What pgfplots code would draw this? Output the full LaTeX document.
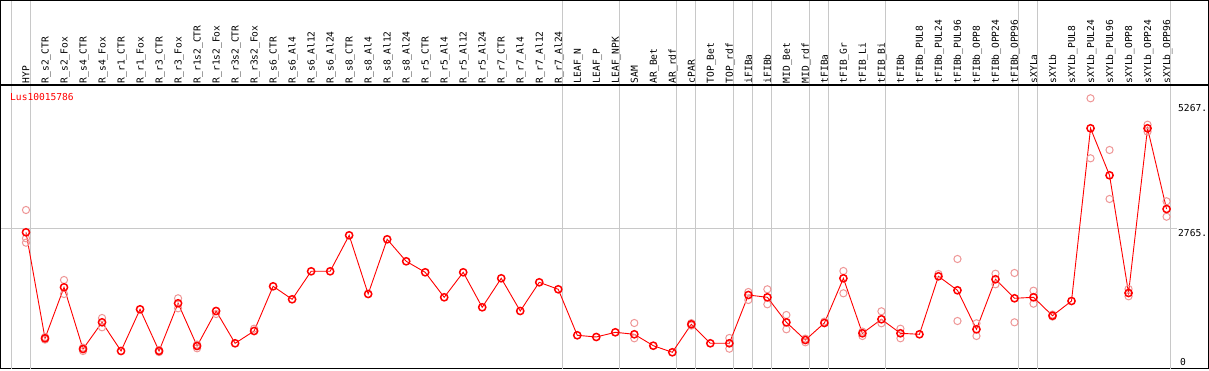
\documentclass[border=0pt]{standalone}
\usepackage{fontspec}
\newfontfamily\mono{DejaVu Sans Mono}
\usepackage{pgfplots}
\pgfplotsset{compat=1.18}
\definecolor{sepgray}{RGB}{200,200,200}
\definecolor{palered}{RGB}{238,150,150}
\newcommand{\tf}{\mono\fontsize{9.6}{10}\selectfont}

\pgfplotstableread{
x y
0 2686
1 566
2 1586
3 352
4 886
5 312
6 1146
7 312
8 1266
9 412
10 1112
11 466
12 712
13 1606
14 1346
15 1906
16 1906
17 2626
18 1452
19 2546
20 2106
21 1886
22 1386
23 1886
24 1186
25 1766
26 1112
27 1686
28 1546
29 626
30 592
31 686
32 646
33 418
34 286
35 846
36 466
37 466
38 1432
39 1386
40 886
41 532
42 872
43 1766
44 666
45 946
46 666
47 646
48 1806
49 1526
50 746
51 1746
52 1366
53 1386
54 1018
55 1312
56 4766
57 3826
58 1472
59 4766
60 3152
}\meantab

\pgfplotstableread{
x y
0 3132
0 2566
0 2478
1 540
1 590
2 1732
2 1452
3 312
3 380
4 972
4 786
7 290
7 330
8 1366
8 1166
9 366
9 440
10 1052
12 758
32 872
32 566
35 870
35 820
37 572
37 358
38 1492
38 1332
39 1546
39 1246
40 1032
40 746
41 486
41 560
42 900
43 1912
43 1466
44 612
44 700
45 1106
45 866
46 758
46 566
48 1852
49 2152
49 912
50 866
50 612
51 1858
51 1646
52 1872
52 886
53 1518
53 1258
54 1000
54 1040
56 5366
56 4166
57 4332
57 3352
58 1552
58 1406
59 4838
59 4698
60 3306
60 2998
}\reptab

\begin{document}
\begin{tikzpicture}
\begin{axis}[
  scale only axis, width=1207pt, height=284pt,
  xmin=-1.315, xmax=62.18, ymin=-48, ymax=5632,
  clip=false,
  axis line style={black, line width=1pt},
  major tick length=0pt,
  xtick={0,...,60},
  xticklabels={HYP,R\_s2\_CTR,R\_s2\_Fox,R\_s4\_CTR,R\_s4\_Fox,R\_r1\_CTR,R\_r1\_Fox,R\_r3\_CTR,R\_r3\_Fox,R\_r1s2\_CTR,R\_r1s2\_Fox,R\_r3s2\_CTR,R\_r3s2\_Fox,R\_s6\_CTR,R\_s6\_Al4,R\_s6\_Al12,R\_s6\_Al24,R\_s8\_CTR,R\_s8\_Al4,R\_s8\_Al12,R\_s8\_Al24,R\_r5\_CTR,R\_r5\_Al4,R\_r5\_Al12,R\_r5\_Al24,R\_r7\_CTR,R\_r7\_Al4,R\_r7\_Al12,R\_r7\_Al24,LEAF\_N,LEAF\_P,LEAF\_NPK,SAM,AR\_Bet,AR\_rdf,cPAR,TOP\_Bet,TOP\_rdf,iFIBa,iFIBb,MID\_Bet,MID\_rdf,tFIBa,tFIB\_Gr,tFIB\_Li,tFIB\_Bi,tFIBb,tFIBb\_PUL8,tFIBb\_PUL24,tFIBb\_PUL96,tFIBb\_OPP8,tFIBb\_OPP24,tFIBb\_OPP96,sXYLa,sXYLb,sXYLb\_PUL8,sXYLb\_PUL24,sXYLb\_PUL96,sXYLb\_OPP8,sXYLb\_OPP24,sXYLb\_OPP96},
  xticklabel pos=upper,
  xticklabel shift=1.5pt,
  x tick label style={font=\tf, rotate=90, anchor=west, inner sep=0pt, text height=7pt, text depth=0pt},
  ytick={2765,5267}, yticklabels={2765.,5267.},
  yticklabel pos=right,
  y tick label style={font=\tf, anchor=north west, inner sep=0pt, xshift=-30pt, yshift=-0.5pt},
  extra y ticks={0}, extra y tick labels={0},
  extra y tick style={y tick label style={anchor=south west, xshift=2pt, yshift=1pt}},
]
\pgfplotsinvokeforeach{-0.78,0.22,28.22,31.22,34.22,35.22,37.22,38.22,39.22,41.22,42.22,45.22,52.22,53.22,60.2}{
  \draw[sepgray, line width=1pt] (axis cs:#1,-48) -- (axis cs:#1,7332);
}
\draw[sepgray, line width=1pt] (axis cs:-1.315,2765) -- (axis cs:60.55,2765);
\draw[black, line width=1pt] (axis cs:-1.315,5632) -- (axis cs:-1.315,7322) -- (axis cs:62.18,7322) -- (axis cs:62.18,5632);
\draw[black, line width=1.6pt] (axis cs:-1.315,5632) -- (axis cs:62.18,5632);
\node[anchor=north west, text=red, font=\tf, inner sep=0pt] at (rel axis cs:0,1) [xshift=9pt, yshift=-8.5pt] {Lus10015786};

\addplot[only marks, mark=o, mark size=3.6pt, mark options={draw=palered, line width=1pt}] table[x=x, y=y] {\reptab};
\addplot[red, line width=0.9pt, mark=o, mark size=3.6pt, mark options={draw=red, line width=1.5pt}] table[x=x, y=y] {\meantab};
\end{axis}
\pgfresetboundingbox
\useasboundingbox ([shift={(-1pt,-1pt)}]current axis.south west) rectangle ([shift={(1pt,85pt)}]current axis.north east);
\end{tikzpicture}
\end{document}
